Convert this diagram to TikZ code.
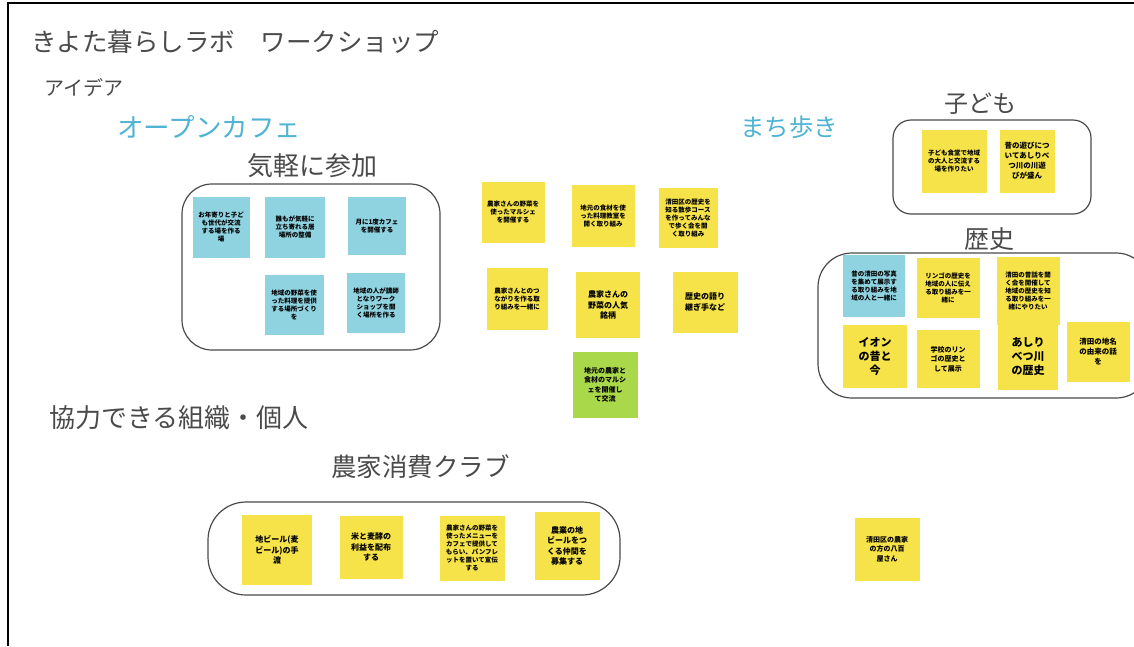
\documentclass[tikz,border=0pt]{standalone}
\usepackage{fontspec}
\setmainfont{Noto Sans CJK JP}
\definecolor{ynote}{HTML}{F6E34A}
\definecolor{cnote}{HTML}{8FD3E0}
\definecolor{gnote}{HTML}{A9D84B}
\definecolor{headc}{HTML}{4A4A4A}
\definecolor{cyanc}{HTML}{4FB3D3}
\definecolor{framec}{HTML}{4A4A4A}
\tikzset{
  note/.style={inner sep=1pt, align=center, text=black, font=\fontsize{6.5}{8}\selectfont\bfseries},
  yn/.style={note, fill=ynote},
  cn/.style={note, fill=cnote},
  gn/.style={note, fill=gnote},
  bignote/.style={font=\fontsize{11}{14}\selectfont\bfseries},
  midnote/.style={font=\fontsize{8}{10.5}\selectfont\bfseries},
  group/.style={draw=framec, line width=1.2pt},
  head/.style={text=headc, font=\fontsize{25}{28}\selectfont, inner sep=0pt, anchor=west},
  cyanhead/.style={text=cyanc, font=\fontsize{25}{28}\selectfont, inner sep=0pt, anchor=west},
}
\begin{document}
\begin{tikzpicture}[x=1pt,y=1pt]
\useasboundingbox (0,0) rectangle (1134,-646);
\begin{scope}
\clip (0,0) rectangle (1134,-646);
% outer frame
\draw[black, line width=1.5pt] (8,-646) -- (8,-3) -- (1140,-3);

% headings
\node[head, font=\fontsize{25.5}{28}\selectfont] (title) at (31,-42) {きよた暮らしラボ　ワークショップ};
\node[head, font=\fontsize{20}{22}\selectfont] (idea) at (44,-88) {アイデア};
\node[cyanhead, font=\fontsize{26.5}{28}\selectfont] (cafe) at (117,-127) {オープンカフェ};
\node[cyanhead, font=\fontsize{24.5}{28}\selectfont] (walk) at (740,-127) {まち歩き};
\node[head, font=\fontsize{26}{28}\selectfont] (casual) at (247,-166) {気軽に参加};
\node[head, font=\fontsize{24}{26}\selectfont] (kids) at (944,-104) {子ども};
\node[head, font=\fontsize{25}{28}\selectfont] (hist) at (964,-239) {歴史};
\node[head, font=\fontsize{26}{28}\selectfont] (coop) at (49,-418) {協力できる組織・個人};
\node[head, font=\fontsize{25.5}{28}\selectfont] (farm) at (331,-467) {農家消費クラブ};

% group boxes
\draw[group, rounded corners=30pt] (182,-184) rectangle (440,-350);
\draw[group, rounded corners=18pt] (893,-120) rectangle (1091,-214);
\draw[group, rounded corners=34pt] (818,-253) rectangle (1150,-398);
\draw[group, rounded corners=38pt] (208,-502) rectangle (620,-595);

% casual participation notes (cyan)
\node[cn, minimum width=57, minimum height=61] (c1) at (221,-227) {お年寄りと子ど\\も世代が交流\\する場を作る\\場};
\node[cn, minimum width=60, minimum height=61] (c2) at (295,-227) {誰もが気軽に\\立ち寄れる居\\場所の整備};
\node[cn, minimum width=58, minimum height=58] (c3) at (377,-226) {月に1度カフェ\\を開催する};
\node[cn, minimum width=59, minimum height=60] (c4) at (294,-305) {地域の野菜を使\\った料理を提供\\する場所づくり\\を};
\node[cn, minimum width=58, minimum height=60] (c5) at (376,-303) {地域の人が講師\\となりワーク\\ショップを開\\く場所を作る};

% middle notes
\node[yn, minimum width=63, minimum height=61] (m1) at (513,-212) {農家さんの野菜を\\使ったマルシェ\\を開催する};
\node[yn, minimum width=63, minimum height=62] (m2) at (603,-216) {地元の食材を使\\った料理教室を\\開く取り組み};
\node[yn, minimum width=59, minimum height=60] (m3) at (688,-218) {清田区の歴史を\\知る散歩コース\\を作ってみんな\\で歩く会を開\\く取り組み};
\node[yn, minimum width=61, minimum height=62] (m4) at (517,-299) {農家さんとのつ\\ながりを作る取\\り組みを一緒に};
\node[yn, midnote, minimum width=64, minimum height=66] (m5) at (608,-305) {農家さんの\\野菜の人気\\銘柄};
\node[yn, midnote, minimum width=65, minimum height=61] (m6) at (705,-302) {歴史の語り\\継ぎ手など};
\node[gn, minimum width=65, minimum height=66, font=\fontsize{7}{9.5}\selectfont\bfseries] (m7) at (605,-385) {地元の農家と\\食材のマルシ\\ェを開催し\\て交流};

% kids notes
\node[yn, minimum width=65, minimum height=63] (k1) at (954,-161) {子ども食堂で地域\\の大人と交流する\\場を作りたい};
\node[yn, font=\fontsize{7.5}{10}\selectfont\bfseries, minimum width=55, minimum height=63] (k2) at (1027,-161) {昔の遊びにつ\\いてあしりべ\\つ川の川遊\\びが盛ん};

% history notes
\node[cn, minimum width=62, minimum height=62] (h1) at (874,-286) {昔の清田の写真\\を集めて展示す\\る取り組みを地\\域の人と一緒に};
\node[yn, minimum width=63, minimum height=60] (h2) at (948,-288) {リンゴの歴史を\\地域の人に伝え\\る取り組みを一\\緒に};
\node[yn, minimum width=63, minimum height=68] (h3) at (1028,-291) {清田の昔話を聞\\く会を開催して\\地域の歴史を知\\る取り組みを一\\緒にやりたい};
\node[yn, bignote, minimum width=64, minimum height=63] (h4) at (875,-356) {イオン\\の昔と\\今};
\node[yn, font=\fontsize{7}{9.5}\selectfont\bfseries, minimum width=63, minimum height=58] (h5) at (948,-359) {学校のリン\\ゴの歴史と\\して展示};
\node[yn, bignote, minimum width=60, minimum height=65] (h6) at (1028,-357) {あしり\\べつ川\\の歴史};
\node[yn, font=\fontsize{7.5}{10}\selectfont\bfseries, minimum width=63, minimum height=60] (h7) at (1098,-352) {清田の地名\\の由来の話\\を};

% farm club notes
\node[yn, midnote, minimum width=70, minimum height=70] (f1) at (277,-550) {地ビール(麦\\ビール)の手\\渡};
\node[yn, midnote, minimum width=63, minimum height=63] (f2) at (371,-547) {米と麦酵の\\利益を配布\\する};
\node[yn, minimum width=65, minimum height=65] (f3) at (472,-548) {農家さんの野菜を\\使ったメニューを\\カフェで提供して\\もらい、パンフレ\\ットを置いて宣伝\\する};
\node[yn, midnote, minimum width=65, minimum height=68] (f4) at (567,-546) {農業の地\\ビールをつ\\くる仲間を\\募集する};

% lone note
\node[yn, font=\fontsize{7}{9.5}\selectfont\bfseries, minimum width=65, minimum height=63] (l1) at (887,-549) {清田区の農家\\の方の八百\\屋さん};
\end{scope}
\end{tikzpicture}
\end{document}
